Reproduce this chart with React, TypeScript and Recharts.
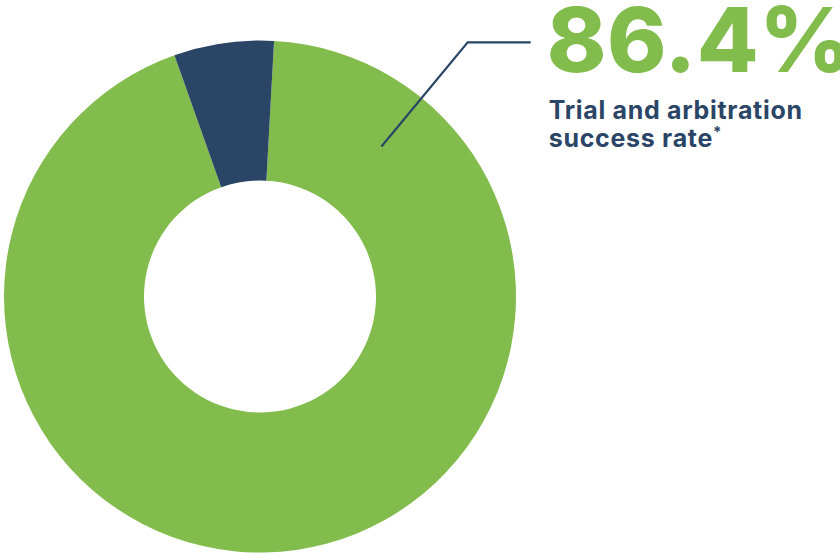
import React from 'react';
import { PieChart, Pie, Cell } from 'recharts';

const categories = ['Success', 'Other'];
const values = [93.7, 6.3];
const colors = ['#82bc4c', '#2b4566'];
const headline = '86.4%';
const captionLine1 = 'Trial and arbitration';
const captionLine2 = 'success rate';

const data = categories.map((name, i) => ({ name, value: values[i] }));

const NAVY = '#2b4566';
const GREEN = '#82bc4c';

const renderLabel = (props: any) => {
  if (props.index !== 0) return null;
  const { cx, cy, outerRadius } = props;
  const ang = (39 * Math.PI) / 180;
  const r = 193;
  const sx = cx + r * Math.sin(ang);
  const sy = cy - r * Math.cos(ang);
  const bx = cx + 207.7;
  const by = cy - outerRadius + 1.8;
  const ex = bx + 63;
  const tx = ex + 16;
  return (
    <g>
      <polyline
        points={`${sx},${sy} ${bx},${by} ${ex},${by}`}
        fill="none"
        stroke={NAVY}
        strokeWidth={2.2}
      />
      <text
        x={tx}
        y={72}
        fill={GREEN}
        fontFamily="Inter, sans-serif"
        fontWeight={800}
        fontSize={90}
        letterSpacing={0.5}
      >
        {headline}
      </text>
      <text
        x={tx + 2}
        y={119}
        fill={NAVY}
        fontFamily="Inter, sans-serif"
        fontWeight={700}
        fontSize={25}
        letterSpacing={0.7}
      >
        {captionLine1}
      </text>
      <text
        x={tx + 2}
        y={146.5}
        fill={NAVY}
        fontFamily="Inter, sans-serif"
        fontWeight={700}
        fontSize={25}
        letterSpacing={0.7}
      >
        {captionLine2}
        <tspan fontSize={15} dy={-10}>*</tspan>
      </text>
    </g>
  );
};

export default function App() {
  return (
    <div style={{ position: 'absolute', left: 0, top: 0, width: 840, height: 553, background: '#fff' }}>
      <PieChart width={840} height={553} margin={{ top: 0, right: 0, bottom: 0, left: 0 }}>
        <Pie
          data={data}
          dataKey="value"
          nameKey="name"
          cx={260}
          cy={296.5}
          innerRadius={116}
          outerRadius={256}
          startAngle={86.85}
          endAngle={-273.15}
          stroke="none"
          label={renderLabel}
          labelLine={false}
          isAnimationActive={false}
        >
          {data.map((d, i) => (
            <Cell key={d.name} fill={colors[i]} />
          ))}
        </Pie>
      </PieChart>
    </div>
  );
}
